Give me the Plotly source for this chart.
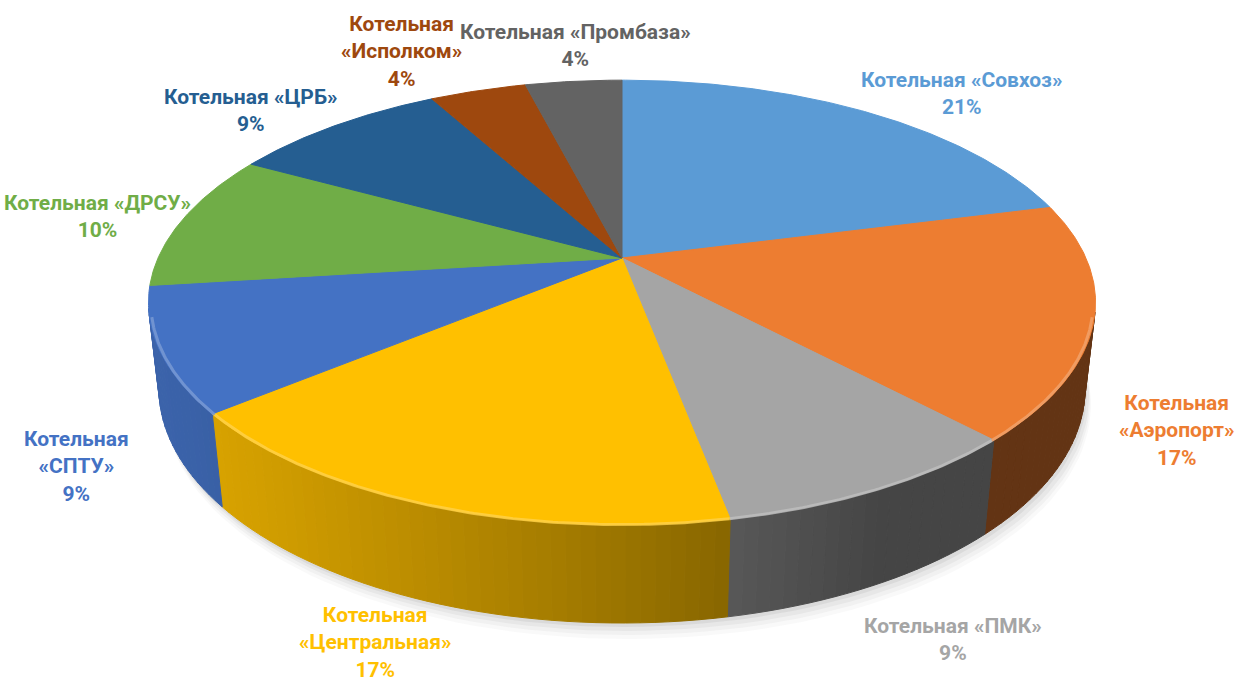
import numpy as np
import plotly.graph_objects as go

# ---------------- data ----------------
names = ["Котельная «Совхоз»", "Котельная «Аэропорт»", "Котельная «ПМК»",
         "Котельная «Центральная»", "Котельная «СПТУ»", "Котельная «ДРСУ»",
         "Котельная «ЦРБ»", "Котельная «Исполком»", "Котельная «Промбаза»"]
label_lines = [["Котельная «Совхоз»"], ["Котельная", "«Аэропорт»"], ["Котельная «ПМК»"],
               ["Котельная", "«Центральная»"], ["Котельная", "«СПТУ»"], ["Котельная «ДРСУ»"],
               ["Котельная «ЦРБ»"], ["Котельная", "«Исполком»"], ["Котельная «Промбаза»"]]
shares = [21, 17, 9, 17, 9, 10, 9, 4, 4]
colors = ["#5B9BD5", "#ED7D31", "#A5A5A5", "#FFC000", "#4472C4",
          "#70AD47", "#255E91", "#9E480E", "#636363"]

# ---------------- projection (tilted 3D pie) ----------------
W, H = 1238, 688
CX, CY = 622, 258
FOC, DIST = 2060.0, 4.44
SPHI, CPHI = 0.46, 0.888
THICK = 0.21
FONT_SIZE = 21


def proj(theta_deg, r=1.0, y=0.0):
    t = np.radians(theta_deg)
    X = r * np.sin(t)
    Z = r * np.cos(t)
    yc = y * CPHI + Z * SPHI
    zc = -y * SPHI + Z * CPHI + DIST
    return CX + FOC * X / zc, CY - FOC * yc / zc


def hex_rgb(h):
    h = h.lstrip("#")
    return [int(h[i:i + 2], 16) for i in (0, 2, 4)]


def shade(h, f):
    r, g, b = hex_rgb(h)
    return "rgb(%d,%d,%d)" % (min(255, r * f), min(255, g * f), min(255, b * f))


def lighten(h, a):
    r, g, b = hex_rgb(h)
    return "rgb(%d,%d,%d)" % (r + (255 - r) * a, g + (255 - g) * a, b + (255 - b) * a)


total = float(sum(shares))
bounds = np.concatenate([[0], np.cumsum(shares)]) / total * 360.0
vis_cos = -1.0 / (DIST * CPHI)

fig = go.Figure()

# soft shadow under the pie
th = np.linspace(0, 360, 181)
for dxs, dys, op in [(6, 16, 0.035), (5, 12, 0.045), (4, 8, 0.06), (2, 4, 0.08)]:
    sx, sy = proj(th, 1.0, -THICK)
    fig.add_trace(go.Scatter(x=sx + dxs, y=sy + dys, mode="lines", fill="toself",
                             fillcolor="rgba(80,80,80,%.3f)" % op, line=dict(width=0),
                             hoverinfo="skip", showlegend=False))

# side walls (only the part facing the viewer)
side_segs = []
for i in range(len(shares)):
    a0, a1 = bounds[i], bounds[i + 1]
    n = max(2, int(np.ceil((a1 - a0) / 1.5)))
    edges = np.linspace(a0, a1, n + 1)
    for s0, s1 in zip(edges[:-1], edges[1:]):
        m = 0.5 * (s0 + s1)
        if np.cos(np.radians(m)) >= vis_cos + 0.02:
            continue
        side_segs.append((i, s0, s1, m))

for i, s0, s1, m in side_segs:
    tt = np.linspace(s0, s1, 4)
    tx, ty = proj(tt, 1.0, 0.0)
    bx, by = proj(tt[::-1], 1.0, -THICK)
    f = max(0.42, 0.47 - 0.40 * np.cos(np.radians(m - 70)))
    c = shade(colors[i], f)
    fig.add_trace(go.Scatter(x=np.concatenate([tx, bx, tx[:1]]), y=np.concatenate([ty, by, ty[:1]]),
                             mode="lines", fill="toself", fillcolor=c, line=dict(color=c, width=1),
                             hoverinfo="skip", showlegend=False))

# top faces
for i in range(len(shares)):
    a0, a1 = bounds[i], bounds[i + 1]
    tt = np.linspace(a0, a1, max(3, int((a1 - a0) / 0.5)))
    ex, ey = proj(tt, 1.0, 0.0)
    xs = np.concatenate([[CX], ex, [CX]])
    ys = np.concatenate([[CY], ey, [CY]])
    fig.add_trace(go.Scatter(x=xs, y=ys, mode="lines", fill="toself", fillcolor=colors[i],
                             line=dict(color=colors[i], width=1), hoverinfo="skip",
                             showlegend=False, name=names[i]))

# bevel highlight along visible front rim
for i in range(len(shares)):
    a0, a1 = bounds[i], bounds[i + 1]
    tt = np.linspace(a0, a1, max(3, int((a1 - a0) / 0.5)))
    tt = tt[np.cos(np.radians(tt)) < vis_cos]
    if len(tt) < 2:
        continue
    ex, ey = proj(tt, 0.995, 0.0)
    fig.add_trace(go.Scatter(x=ex, y=ey + 1.5, mode="lines", line=dict(color=lighten(colors[i], 0.3), width=3),
                             opacity=0.8, hoverinfo="skip", showlegend=False))

# data labels: placed outside each slice, then pushed sideways when they collide
GAP = 8
boxes = []
for i in range(len(shares)):
    mid = 0.5 * (bounds[i] + bounds[i + 1])
    front = np.cos(np.radians(mid)) < 0
    ax_, ay_ = proj(mid, 1.08 if front else 1.0, -THICK if front else 0.0)
    dx, dy = ax_ - CX, ay_ - CY
    nrm = np.hypot(dx, dy)
    ux, uy = dx / nrm, dy / nrm
    lines = label_lines[i] + ["%d%%" % shares[i]]
    w = max(len(s) for s in lines) * 11.2
    h = len(lines) * 29
    boxes.append([ax_ + GAP * ux + ux * w / 2, ay_ + GAP * uy + uy * h / 2, w, h, lines])

for _ in range(30):
    for a in range(len(boxes)):
        for b in range(a + 1, len(boxes)):
            xa, ya, wa, ha, _l = boxes[a]
            xb, yb, wb, hb, _l = boxes[b]
            ox = (wa + wb) / 2 + 6 - abs(xa - xb)
            oy = (ha + hb) / 2 - abs(ya - yb)
            if ox > 0 and oy > 0:
                s = 1 if xb >= xa else -1
                boxes[a][0] -= s * ox / 2
                boxes[b][0] += s * ox / 2

for i, (x, y, w, h, lines) in enumerate(boxes):
    x = min(max(x, 8 + w / 2), W - 6 - w / 2)
    y = min(max(y, 4 + h / 2), H - 2 - h / 2)
    fig.add_annotation(x=x, y=y, xref="x", yref="y", text="<br>".join(lines), showarrow=False,
                       xanchor="center", yanchor="middle", align="center",
                       font=dict(family="Roboto, sans-serif", size=FONT_SIZE,
                                 color=colors[i], weight="bold"))

fig.update_layout(width=W, height=H, autosize=False, margin=dict(l=0, r=0, t=0, b=0),
                  paper_bgcolor="white", plot_bgcolor="white", showlegend=False,
                  xaxis=dict(range=[0, W], visible=False, fixedrange=True),
                  yaxis=dict(range=[H, 0], visible=False, fixedrange=True))
fig.write_html("out.html")
